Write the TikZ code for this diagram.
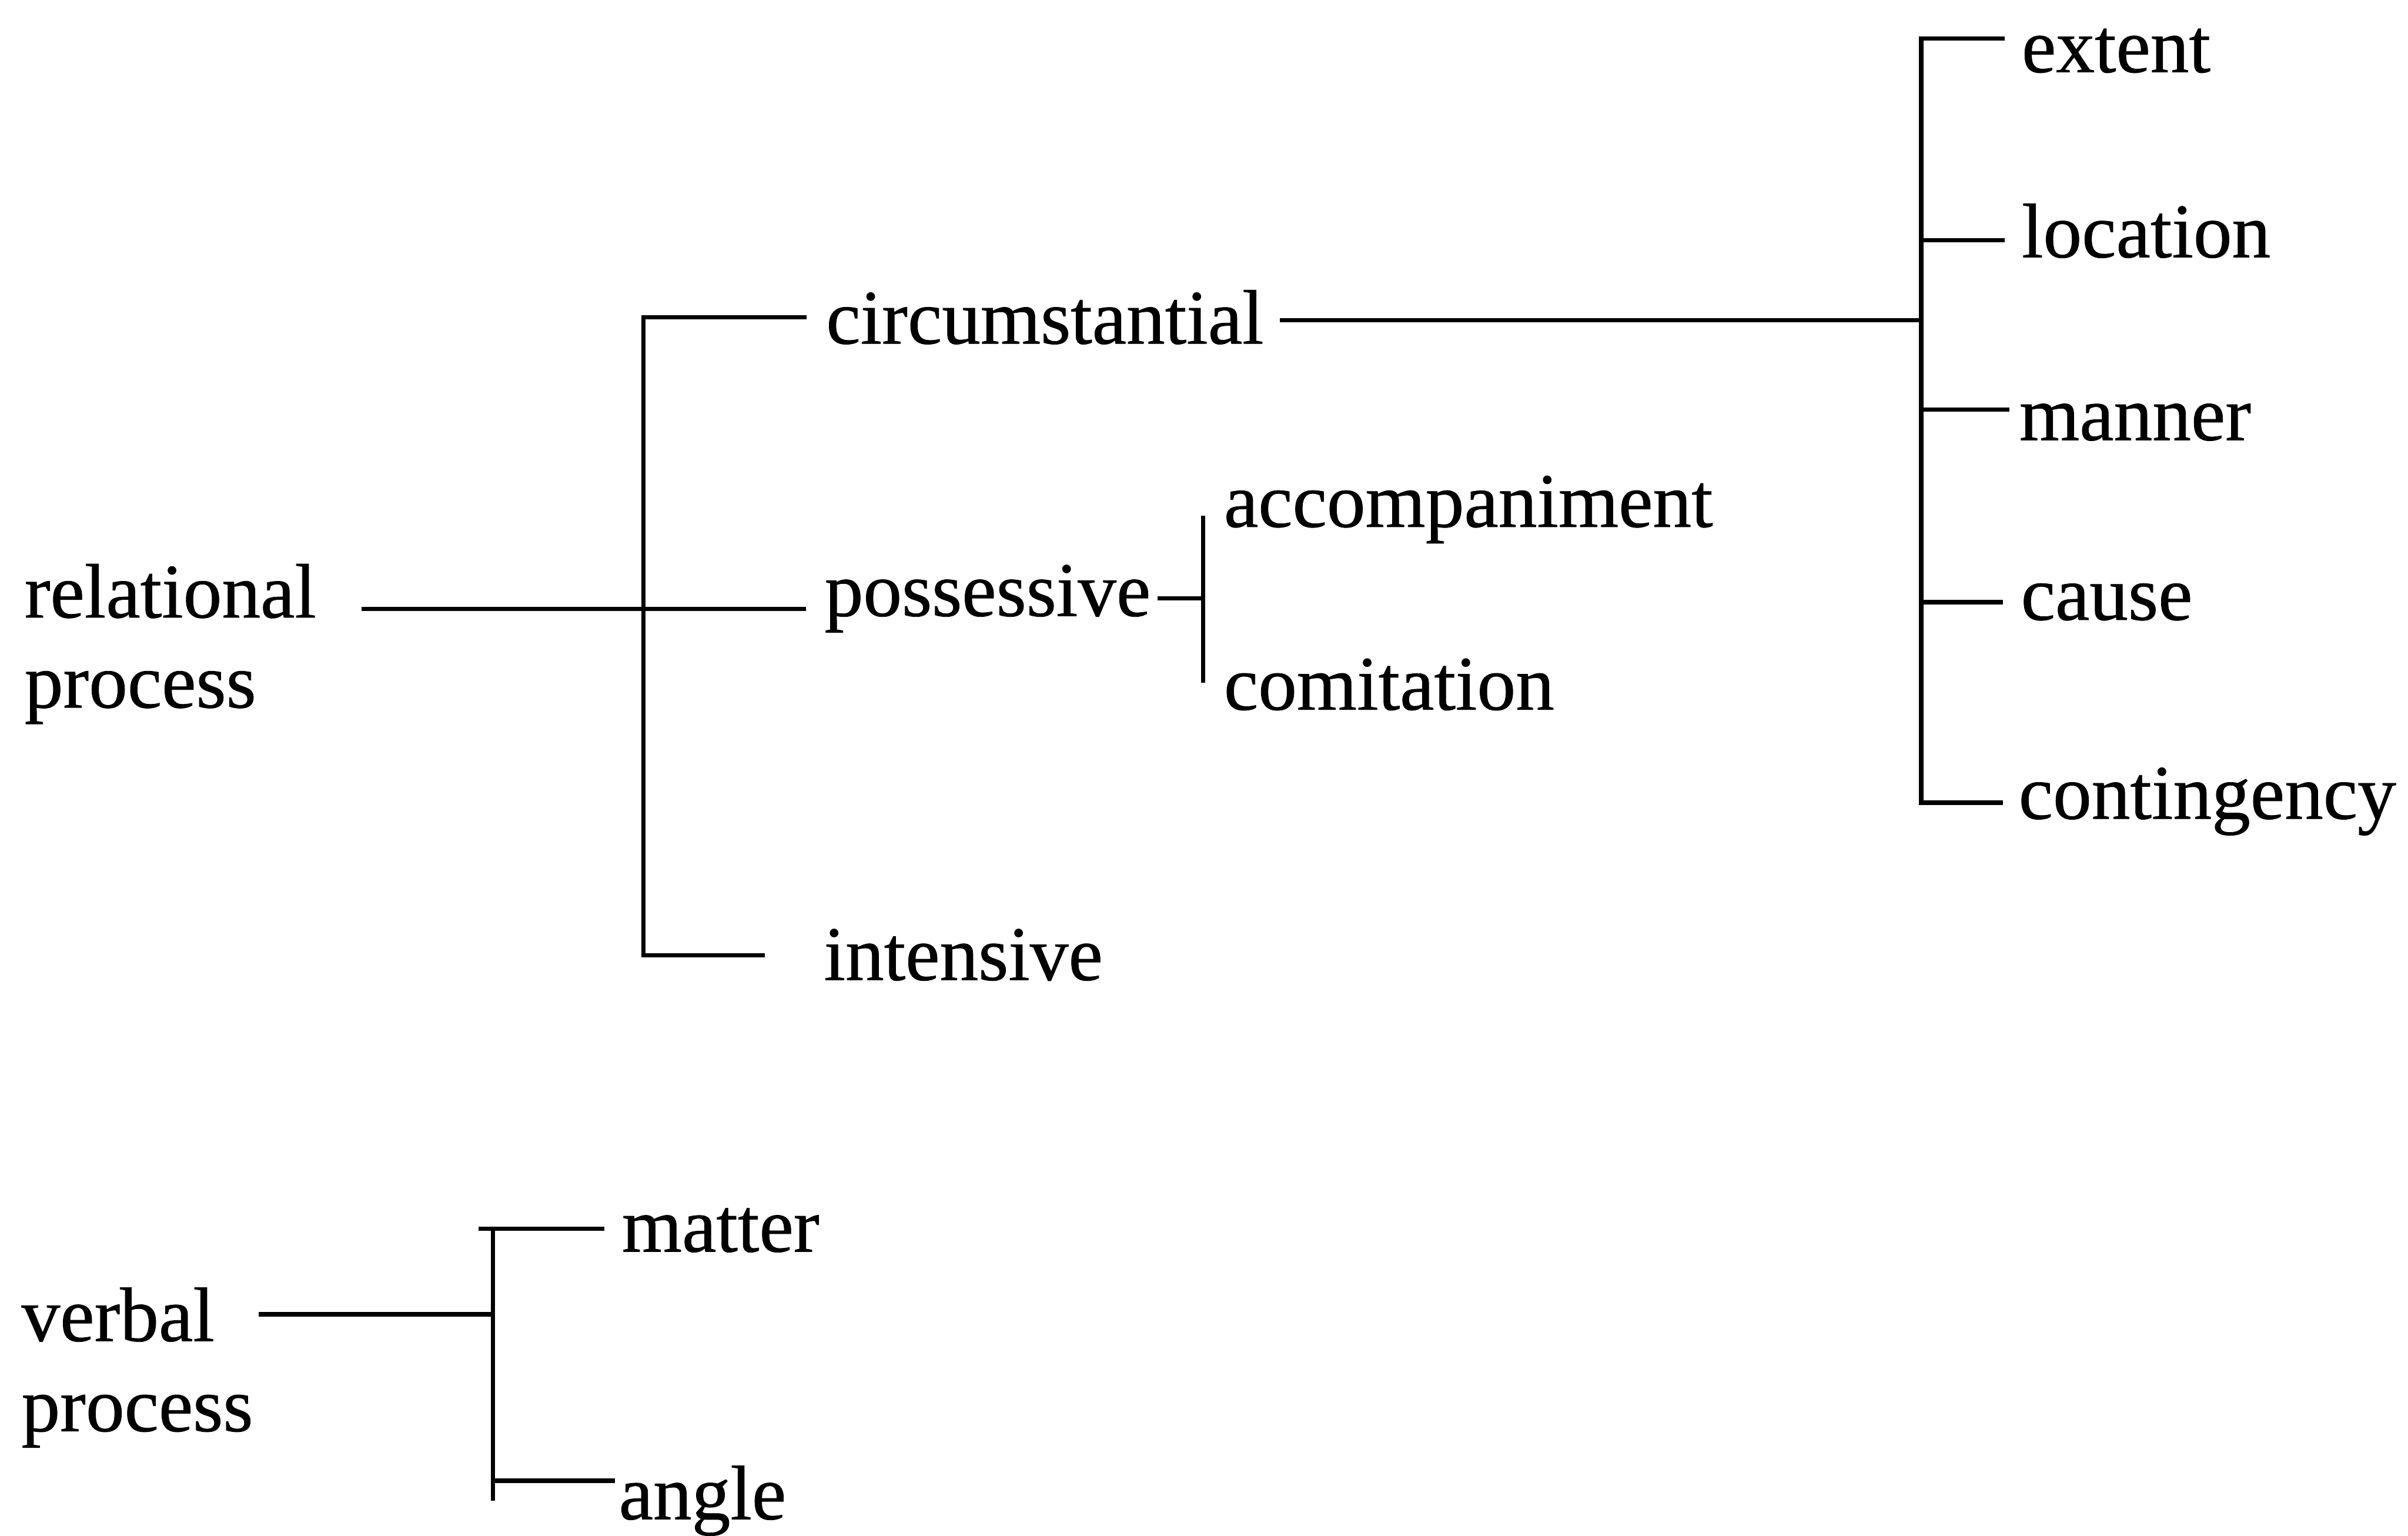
\documentclass[tikz,border=0pt]{standalone}
\usepackage{fontspec}
\setmainfont[FakeBold=0.6]{Liberation Serif}
\begin{document}
\begin{tikzpicture}[x=0.01cm,y=-0.01cm,
  label/.style={anchor=base west,inner sep=0pt,outer sep=0pt,
    font=\fontsize{14.3}{16.7}\selectfont},
  wire/.style={line width=0.8pt,line cap=rect}]
\useasboundingbox (0,0) rectangle (1568,999.8);

% ---------- relational process ----------
\node[label] (rel1) at (16,402) {relational};
\node[label] (rel2) at (16,460.6) {process};
\node[label] (circ) at (538,223.7) {circumstantial};
\node[label] (poss) at (537,401) {possessive};
\node[label] (inten) at (536.5,638) {intensive};

\coordinate (rtop) at (419,206.5);
\coordinate (rmid) at (419,396.5);
\coordinate (rbot) at (419,622);
\draw[wire] (rtop) -- (rbot);
\draw[wire,shorten >=0.14cm] (rtop) -- (circ.west |- rtop);
\draw[wire,shorten <=0.31cm,shorten >=0.135cm] (rel1.east |- rmid) -- (poss.west |- rmid);
\draw[wire,shorten >=0.40cm] (rbot) -- (inten.west |- rbot);

% possessive: accompaniment / comitation
\node[label] (accomp) at (797,343) {accompaniment};
\node[label] (comit) at (797,462) {comitation};
\coordinate (ptop) at (783.5,337);
\coordinate (pbot) at (783.5,443);
\coordinate (pmid) at (783.5,389.6);
\draw[wire] (ptop) -- (pbot);
\draw[wire,shorten <=0.06cm] (poss.east |- pmid) -- (pmid);

% circumstantial: five subtypes
\node[label] (extent) at (1316.5,47) {extent};
\node[label] (loc) at (1316.5,167.5) {location};
\node[label] (manner) at (1315,286.5) {manner};
\node[label] (cause) at (1316,403.5) {cause};
\node[label] (conting) at (1314.5,533) {contingency};

\coordinate (ctop) at (1251,25);
\coordinate (cmid) at (1251,208.5);
\coordinate (cbot) at (1251,522.6);
\coordinate (c2) at (1251,156.4);
\coordinate (c3) at (1251,266.7);
\coordinate (c4) at (1251,392);
\draw[wire] (ctop) -- (cbot);
\draw[wire,shorten <=0.12cm] (circ.east |- cmid) -- (cmid);
\draw[wire,shorten >=0.125cm] (ctop) -- (extent.west |- ctop);
\draw[wire,shorten >=0.125cm] (c2) -- (loc.west |- c2);
\draw[wire,shorten >=0.08cm] (c3) -- (manner.west |- c3);
\draw[wire,shorten >=0.13cm] (c4) -- (cause.west |- c4);
\draw[wire,shorten >=0.115cm] (cbot) -- (conting.west |- cbot);

% ---------- verbal process ----------
\node[label] (verb1) at (14,873) {verbal};
\node[label] (verb2) at (14,931.7) {process};
\node[label] (matter) at (405,814.8) {matter};
\node[label] (angle) at (403,989) {angle};

\coordinate (vtop) at (321,800);
\coordinate (vtopl) at (313,800);
\coordinate (vmid) at (321,855.6);
\coordinate (vbr) at (321,964);
\coordinate (vbot) at (321,975.5);
\draw[wire] (vtop) -- (vbot);
\draw[wire,shorten <=0.30cm] (verb1.east |- vmid) -- (vmid);
\draw[wire,shorten >=0.13cm] (vtopl) -- (matter.west |- vtopl);
\draw[wire,shorten >=0.04cm] (vbr) -- (angle.west |- vbr);
\end{tikzpicture}
\end{document}
